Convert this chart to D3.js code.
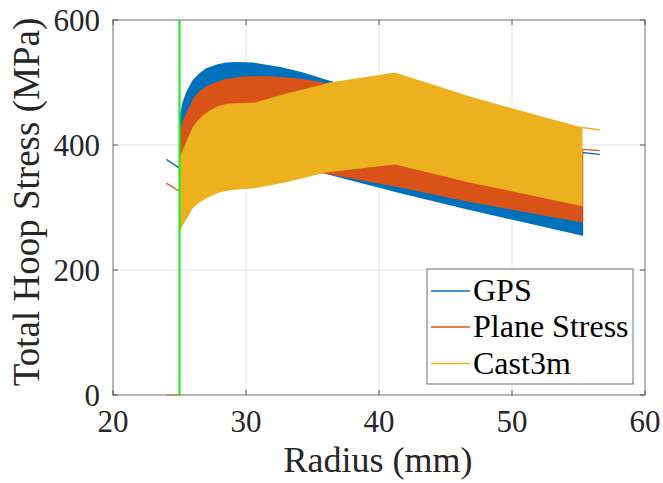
<!DOCTYPE html>
<html><head><meta charset="utf-8">
<script src="https://cdn.jsdelivr.net/npm/d3@7"></script>
<style>body{margin:0;background:#fff}svg{display:block}</style>
</head><body><svg id="c" width="663" height="483"></svg>
<script>
// ---- data ----
const xTicks = [20, 30, 40, 50, 60];
const yTicks = [0, 200, 400, 600];
const seriesNames = ["GPS", "Plane Stress", "Cast3m"];
const seriesColors = ["#0072BD", "#D95319", "#EDB120"];

// GPS band envelope
const gpsR      = [25, 25.2, 25.5, 26, 26.5, 27, 27.8, 28.5, 29.3, 30.5, 32.6, 34.3, 35.8, 36.3, 41.6, 46.8, 55.3];
const gpsTop    = [445, 466, 485, 504, 515, 523, 529, 532, 533, 532, 525, 516, 506, 503, 471, 440, 388];
const gpsBottom = [345, 347, 350, 355, 357, 358, 360, 360, 360, 360, 358, 356, 355, 352, 323, 296, 255];
// Plane stress band envelope
const psR      = [25, 25.2, 25.5, 26.1, 26.6, 27.2, 28.5, 30, 31.8, 33.8, 35.3, 35.8, 36.3, 41.6, 46.8, 55.3];
const psTop    = [418, 437, 451, 477, 488, 496, 506, 510, 510, 507, 502, 500, 499, 465, 437, 393];
const psBottom = [335, 338, 342, 347, 350, 352, 355, 357, 358, 358, 357, 355, 353, 332, 309, 276];
// Cast3m band envelope
const cR      = [25, 25.2, 25.5, 26, 26.4, 26.8, 27.4, 28, 28.6, 29.3, 30.7, 33.1, 35.8, 36.3, 41.2, 46.8, 49.1, 55.3];
const cTop    = [378, 390, 405, 429, 440, 448, 457, 463, 466, 467, 468, 483, 497, 500, 516, 478, 464, 428];
const cBottom = [260, 270, 280, 299, 307, 312, 319, 324, 327, 329, 331, 341, 355, 357, 369, 340, 330, 302];

// lead-in / tail segments of each series
const gpsLead  = [[24, 377], [25, 363]];
const psLead   = [[24, 339], [25, 326]];
const cLead    = [[24, 0], [25, 0]];
const gpsTail  = [[55.3, 255], [55.3, 388], [56.6, 385]];
const psTail   = [[55.3, 276], [55.3, 393], [56.6, 391]];
const cTail    = [[55.3, 428], [56.6, 424]];

const markerR = 25;  // vertical green line

// ---- layout ----
const svg = d3.select("#c");
const L = 113, R = 645, T = 20, B = 395;
const x = d3.scaleLinear().domain([20, 60]).range([L, R]);
const y = d3.scaleLinear().domain([0, 600]).range([B, T]);
const font = "'Liberation Serif','Times New Roman',serif";

// grid
const g = svg.append("g");
g.selectAll(".gx").data(xTicks.slice(1, -1)).enter().append("line")
  .attr("x1", d => x(d)).attr("x2", d => x(d)).attr("y1", T).attr("y2", B)
  .attr("stroke", "#e3e3e3").attr("stroke-width", 1);
g.selectAll(".gy").data(yTicks.slice(1, -1)).enter().append("line")
  .attr("y1", d => y(d)).attr("y2", d => y(d)).attr("x1", L).attr("x2", R)
  .attr("stroke", "#e3e3e3").attr("stroke-width", 1);

// bands
function band(rs, top, bot) { return rs.map((r, i) => ({r: r, hi: top[i], lo: bot[i]})); }
const bands = [band(gpsR, gpsTop, gpsBottom), band(psR, psTop, psBottom), band(cR, cTop, cBottom)];
const leads = [gpsLead, psLead, cLead];
const tails = [gpsTail, psTail, cTail];
const area = d3.area().x(d => x(d.r)).y0(d => y(d.lo)).y1(d => y(d.hi));
const line = d3.line().x(d => x(d[0])).y(d => y(d[1]));
const plot = svg.append("g");
bands.forEach((b, i) => {
  plot.append("path").attr("d", area(b)).attr("fill", seriesColors[i]).attr("stroke", "none");
  plot.append("path").attr("d", line(leads[i])).attr("fill", "none").attr("stroke", seriesColors[i]).attr("stroke-width", 1.3);
  plot.append("path").attr("d", line(tails[i])).attr("fill", "none").attr("stroke", seriesColors[i]).attr("stroke-width", 1.3);
});
// green marker line
plot.append("line").attr("x1", x(markerR)).attr("x2", x(markerR)).attr("y1", y(0)).attr("y2", y(600))
  .attr("stroke", "#22ee22").attr("stroke-width", 2.2);

// axes box & ticks
const ax = svg.append("g");
ax.append("rect").attr("x", L).attr("y", T).attr("width", R - L).attr("height", B - T)
  .attr("fill", "none").attr("stroke", "#6e6e6e").attr("stroke-width", 1);
const tl = 5;
xTicks.forEach(t => {
  ax.append("line").attr("x1", x(t)).attr("x2", x(t)).attr("y1", B).attr("y2", B - tl).attr("stroke", "#555");
  ax.append("line").attr("x1", x(t)).attr("x2", x(t)).attr("y1", T).attr("y2", T + tl).attr("stroke", "#555");
});
yTicks.forEach(t => {
  ax.append("line").attr("y1", y(t)).attr("y2", y(t)).attr("x1", L).attr("x2", L + tl).attr("stroke", "#555");
  ax.append("line").attr("y1", y(t)).attr("y2", y(t)).attr("x1", R).attr("x2", R - tl).attr("stroke", "#555");
});
ax.selectAll(".xl").data(xTicks).enter().append("text")
  .attr("x", d => x(d)).attr("y", B + 37).attr("text-anchor", "middle")
  .attr("font-family", font).attr("font-size", 31).attr("fill", "#262626").text(d => d);
ax.selectAll(".yl").data(yTicks).enter().append("text")
  .attr("x", L - 13).attr("y", d => y(d)).attr("dy", "0.34em").attr("text-anchor", "end")
  .attr("font-family", font).attr("font-size", 31).attr("fill", "#262626").text(d => d);
ax.append("text").attr("x", 378).attr("y", 472).attr("text-anchor", "middle")
  .attr("font-family", font).attr("font-size", 36).attr("fill", "#262626").text("Radius (mm)");
ax.append("text").attr("transform", "translate(39," + 202 + ") rotate(-90)").attr("text-anchor", "middle")
  .attr("font-family", font).attr("font-size", 37).attr("fill", "#262626").text("Total Hoop Stress (MPa)");

// legend
const lg = svg.append("g");
lg.append("rect").attr("x", 427).attr("y", 269).attr("width", 206).attr("height", 115)
  .attr("fill", "#fff").attr("stroke", "#6e6e6e").attr("stroke-width", 1);
const rowY = [291, 327, 363.5];
seriesNames.forEach((n, i) => {
  lg.append("line").attr("x1", 431).attr("x2", 470).attr("y1", rowY[i]).attr("y2", rowY[i])
    .attr("stroke", seriesColors[i]).attr("stroke-width", 1.3);
  lg.append("text").attr("x", 473).attr("y", rowY[i] + 10).attr("font-family", font)
    .attr("font-size", 32).attr("fill", "#000").text(n);
});
</script></body></html>
